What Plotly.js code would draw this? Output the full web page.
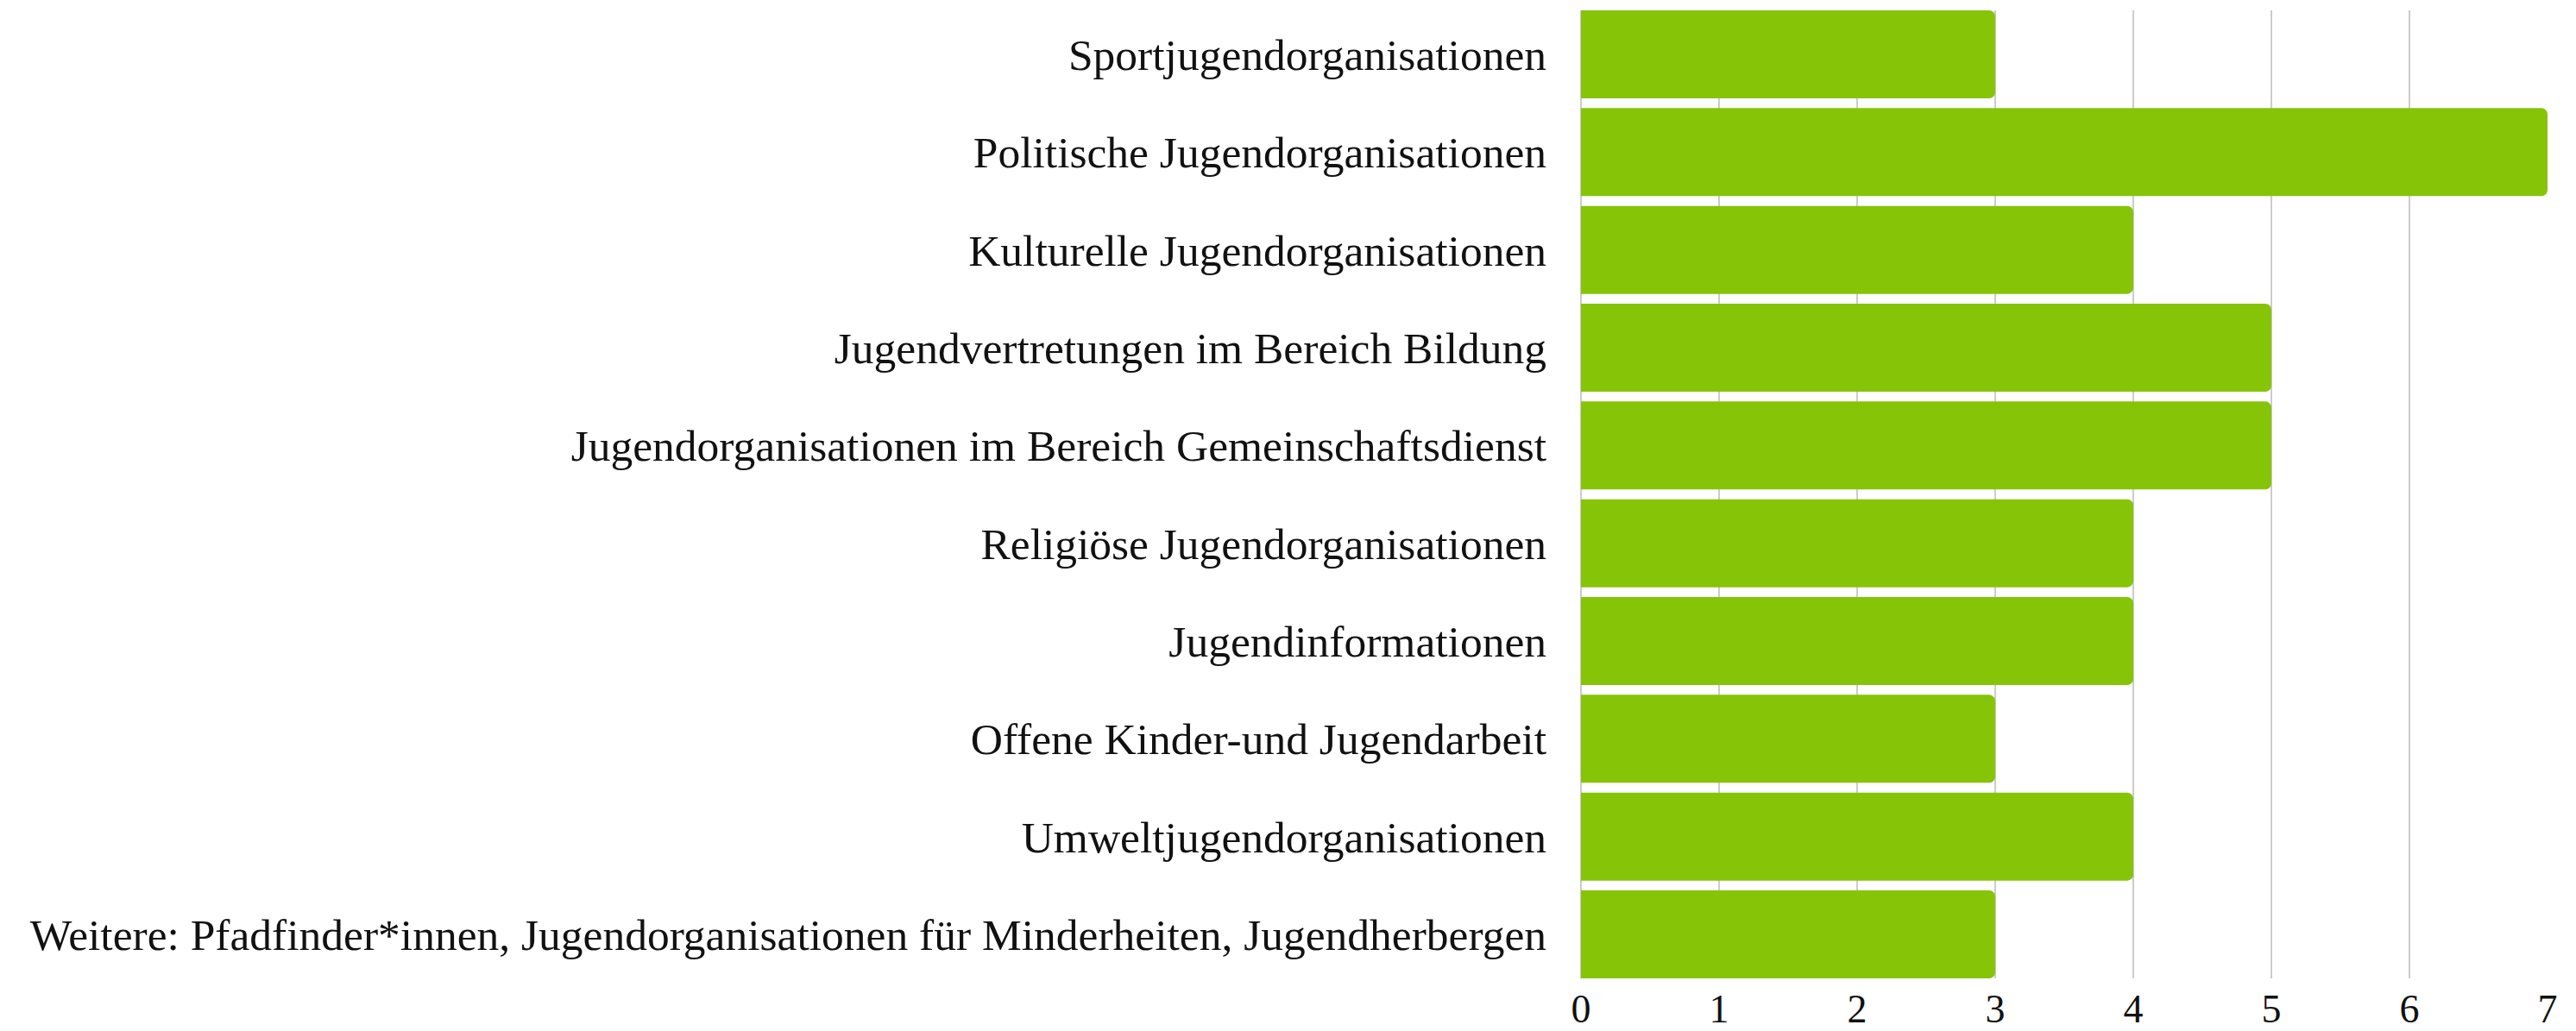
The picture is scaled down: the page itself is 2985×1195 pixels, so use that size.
<!DOCTYPE html>
<html>
<head>
<meta charset="utf-8">
<script src="https://cdn.plot.ly/plotly-3.0.1.min.js"></script>
<style>html,body{margin:0;padding:0;background:#fff;}#chart{width:2985px;height:1195px;}</style>
</head>
<body>
<div id="chart"></div>
<script>
const categories = [
  "Sportjugendorganisationen",
  "Politische Jugendorganisationen",
  "Kulturelle Jugendorganisationen",
  "Jugendvertretungen im Bereich Bildung",
  "Jugendorganisationen im Bereich Gemeinschaftsdienst",
  "Religiöse Jugendorganisationen",
  "Jugendinformationen",
  "Offene Kinder-und Jugendarbeit",
  "Umweltjugendorganisationen",
  "Weitere: Pfadfinder*innen, Jugendorganisationen für Minderheiten, Jugendherbergen"
];
const values = [3, 7, 4, 5, 5, 4, 4, 3, 4, 3];
const xTicks = [0, 1, 2, 3, 4, 5, 6, 7];

const font = "Liberation Serif, Times New Roman, serif";

Plotly.newPlot("chart", [{
  type: "bar",
  orientation: "h",
  x: values,
  y: categories,
  marker: {color: "#86c408", cornerradius: 7},
  hoverinfo: "none"
}], {
  width: 2985,
  height: 1195,
  margin: {l: 1832, r: 33, t: 12, b: 61, pad: 0},
  paper_bgcolor: "#fff",
  plot_bgcolor: "#fff",
  bargap: 0.1,
  showlegend: false,
  font: {family: font, color: "#111", size: 48},
  xaxis: {
    range: [0, 7],
    tickvals: xTicks,
    ticktext: xTicks.map(String),
    showgrid: true,
    gridcolor: "#cccccc",
    gridwidth: 1.5,
    zeroline: true,
    zerolinecolor: "#cccccc",
    zerolinewidth: 1.5,
    showline: false,
    ticks: "",
    ticklabelstandoff: 4,
    tickfont: {family: font, size: 46, color: "#111"},
    automargin: false,
    fixedrange: true
  },
  yaxis: {
    type: "category",
    categoryorder: "array",
    categoryarray: categories,
    range: [9.45, -0.45],
    showgrid: false,
    showline: false,
    zeroline: false,
    ticks: "",
    ticklabelstandoff: 39,
    tickfont: {family: font, size: 51.5, color: "#111"},
    automargin: false,
    fixedrange: true
  }
}, {staticPlot: true, displayModeBar: false});
</script>
</body>
</html>
